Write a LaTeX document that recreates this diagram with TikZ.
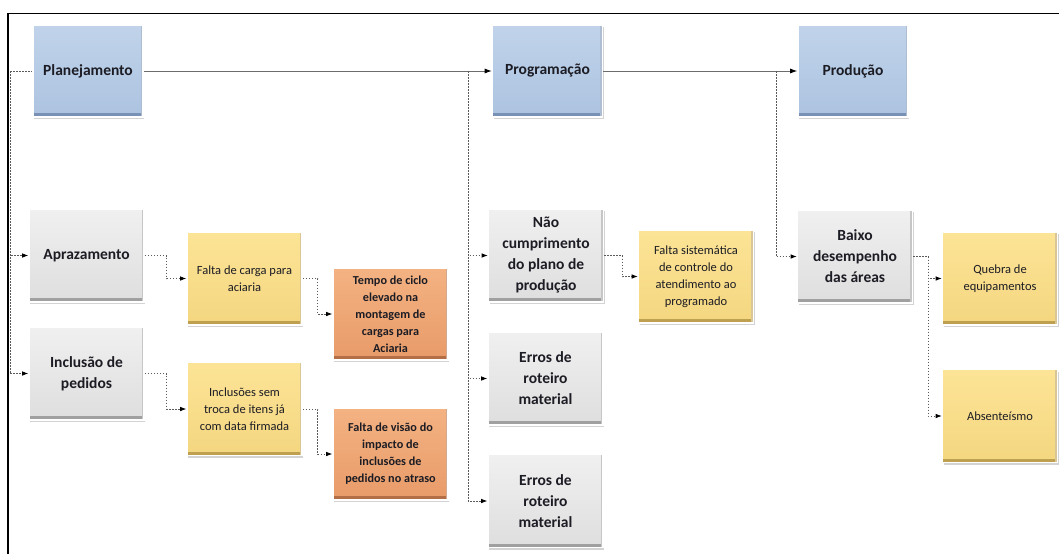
\documentclass[tikz,border=0pt]{standalone}
\usepackage{fontspec}
\setmainfont{Carlito}
\usetikzlibrary{arrows.meta,shadows}

\definecolor{bluetop}{RGB}{192,211,234}
\definecolor{bluebot}{RGB}{172,195,224}
\definecolor{blueedge}{RGB}{120,145,180}
\definecolor{graytop}{RGB}{240,240,240}
\definecolor{graybot}{RGB}{222,222,222}
\definecolor{grayedge}{RGB}{160,160,160}
\definecolor{yeltop}{RGB}{252,228,150}
\definecolor{yelbot}{RGB}{244,214,128}
\definecolor{yeledge}{RGB}{190,160,80}
\definecolor{orgtop}{RGB}{244,178,130}
\definecolor{orgbot}{RGB}{232,155,105}
\definecolor{orgedge}{RGB}{180,110,70}
\definecolor{ink}{RGB}{28,28,36}
\definecolor{wire}{RGB}{90,90,90}

\tikzset{
  box/.style={rectangle, align=center, inner sep=2pt, text=ink,
    draw=white, line width=1.6pt,
    drop shadow={shadow xshift=1.2pt, shadow yshift=-2pt, opacity=0.35}},
  bevel/.style={path picture={
    \fill[#1] (path picture bounding box.south west)
      rectangle ([yshift=4pt]path picture bounding box.south east);
    \fill[#1!60!white] (path picture bounding box.south east)
      rectangle ([xshift=-2.5pt]path picture bounding box.north east);}},
  bluebox/.style={box, minimum width=110pt, minimum height=92pt,
    top color=bluetop, bottom color=bluebot, bevel=blueedge,
    font=\fontsize{15.5}{20}\selectfont\bfseries},
  graybox/.style={box, minimum width=115pt, minimum height=93pt,
    top color=graytop, bottom color=graybot, bevel=grayedge,
    font=\fontsize{15.5}{21}\selectfont\bfseries},
  yelbox/.style={box, minimum width=115pt, minimum height=93pt,
    top color=yeltop, bottom color=yelbot, bevel=yeledge,
    font=\fontsize{12.5}{17}\selectfont},
  orgbox/.style={box, minimum width=115pt, minimum height=92pt,
    top color=orgtop, bottom color=orgbot, bevel=orgedge,
    font=\fontsize{12.2}{17}\selectfont\bfseries},
  mainline/.style={draw=gray!85!black, line width=0.8pt,
    -{Latex[length=7pt,width=5pt,color=black]}},
  dotline/.style={draw=wire, line width=0.7pt, dash pattern=on 1.6pt off 1.4pt},
  dotarrow/.style={dotline, -{Latex[length=6pt,width=4.5pt,color=black]}}
}

\begin{document}
\begin{tikzpicture}[x=1pt,y=-1pt]
\useasboundingbox (0,0) rectangle (1059,554);
% outer frame (left and top edges)
\draw[line width=1.8pt] (8,554) -- (8,13.5) -- (1059,13.5);

% main stages
\node[bluebox] (plan) at (88,71) {Planejamento};
\node[bluebox] (prog) at (547.5,71) {Programação};
\node[bluebox] (prod) at (853,71) {Produção};

% planning branch
\node[graybox] (aprz) at (86.5,255.5) {Aprazamento};
\node[graybox] (incl) at (86.5,373.5) {Inclusão de\\pedidos};
\node[yelbox] (carga) at (244.5,278.5) {Falta de carga para\\aciaria};
\node[yelbox] (semtroca) at (244.5,409) {Inclusões sem\\troca de itens já\\com data firmada};
\node[orgbox] (ciclo) at (390.5,314) {Tempo de ciclo\\elevado na\\montagem de\\cargas para\\Aciaria};
\node[orgbox] (visao) at (390.5,454) {Falta de visão do\\impacto de\\inclusões de\\pedidos no atraso};

% scheduling branch
\node[graybox] (nao) at (546,255.5) {Não\\cumprimento\\do plano de\\produção};
\node[graybox] (err1) at (545.5,378.5) {Erros de\\roteiro\\material};
\node[graybox] (err2) at (545.5,501) {Erros de\\roteiro\\material};
\node[yelbox] (sist) at (696,276.5) {Falta sistemática\\de controle do\\atendimento ao\\programado};

% production branch
\node[graybox] (baixo) at (855,256.5) {Baixo\\desempenho\\das áreas};
\node[yelbox] (quebra) at (1000,278.5) {Quebra de\\equipamentos};
\node[yelbox] (absent) at (1000,416) {Absenteísmo};

% main flow
\draw[mainline] (plan.east) -- (prog.west);
\draw[mainline] (prog.east) -- (prod.west);

% trunk points
\coordinate (lin) at (10,71);
\coordinate (ptrunk) at (468,71);
\coordinate (dtrunk) at (776,71);

\draw[dotline] (lin) -- (plan.west);
\draw[dotarrow] (lin) |- (aprz.west);
\draw[dotarrow] (lin) |- (incl.west);

\draw[dotarrow] (aprz.east) -- ++(22,0) |- (carga.west);
\draw[dotarrow] (incl.east) -- ++(22,0) |- (semtroca.west);
\draw[dotarrow] (carga.east) -- ++(15,0) |- (ciclo.west);
\draw[dotarrow] (semtroca.east) -- ++(15,0) |- (visao.west);

\draw[dotarrow] (ptrunk) |- (nao.west);
\draw[dotarrow] (ptrunk) |- (err1.west);
\draw[dotarrow] (ptrunk) |- (err2.west);
\draw[dotarrow] (nao.east) -- ++(18,0) |- (sist.west);

\draw[dotarrow] (dtrunk) |- (baixo.west);
\draw[dotarrow] (baixo.east) -- ++(15,0) |- (quebra.west);
\draw[dotarrow] (baixo.east) -- ++(15,0) |- (absent.west);
\end{tikzpicture}
\end{document}
